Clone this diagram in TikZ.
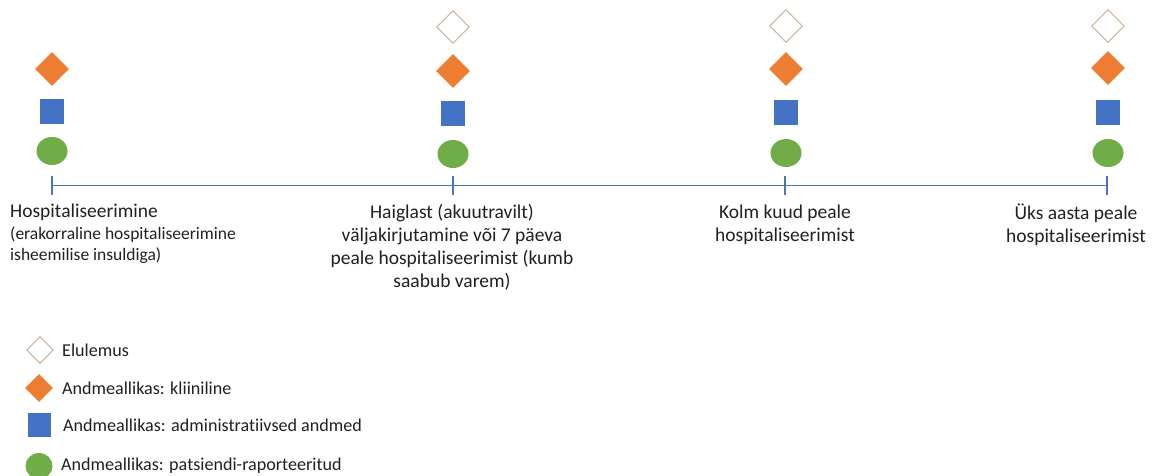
\documentclass[tikz,border=0pt]{standalone}
\usepackage{fontspec}
\setmainfont[Ligatures=NoCommon]{Carlito}
\usetikzlibrary{shapes.geometric}

\definecolor{clinOrange}{HTML}{ED7D31}
\definecolor{admBlue}{HTML}{4472C4}
\definecolor{patGreen}{HTML}{70AD47}
\definecolor{survEdge}{HTML}{C8AA90}
\definecolor{axisBlue}{HTML}{4A76B8}
\definecolor{txt}{HTML}{202020}

\tikzset{
  survival/.style={diamond, aspect=1, draw=survEdge, line width=0.9pt, fill=white,
                   inner sep=0pt, minimum width=#1, minimum height=#1},
  survival/.default=33,
  clinical/.style={diamond, aspect=1, fill=clinOrange, inner sep=0pt,
                   minimum width=#1, minimum height=#1},
  clinical/.default=34,
  admin/.style={rectangle, fill=admBlue, inner sep=0pt, minimum width=24, minimum height=25},
  patient/.style={ellipse, fill=patGreen, inner sep=0pt, minimum width=31, minimum height=28},
  tickmark/.style={draw=axisBlue, line width=2.2pt},
  axisline/.style={draw=axisBlue, line width=1pt},
  bigtext/.style={text=txt, inner sep=0pt, font=\fontsize{19.5}{23}\selectfont},
  legtext/.style={text=txt, inner sep=0pt, anchor=west, font=\fontsize{18.1}{21}\selectfont}
}

\begin{document}
\begin{tikzpicture}[x=1pt, y=-1pt]
  \useasboundingbox (0,0) rectangle (1155,475);

  % time points on the axis
  \coordinate (t1) at (52,185);
  \coordinate (t2) at (453,185);
  \coordinate (t3) at (785,185);
  \coordinate (t4) at (1107,185);

  \draw[axisline] (t1) -- (t4);
  \foreach \t in {t1,t2,t3,t4} {
    \draw[tickmark] ([yshift=-10pt]\t) -- ([yshift=9pt]\t);
  }

  % markers above each time point
  \node[clinical] (c1) at (52,69) {};
  \node[admin]    (a1) at (52,111) {};
  \node[patient]  (p1) at (52,151) {};

  \node[survival] (s2) at (453,27) {};
  \node[clinical] (c2) at (453,71) {};
  \node[admin]    (a2) at (453,113) {};
  \node[patient]  (p2) at (453,154) {};

  \node[survival] (s3) at (786,26) {};
  \node[clinical] (c3) at (786,69) {};
  \node[admin]    (a3) at (786,112) {};
  \node[patient]  (p3) at (786,153) {};

  \node[survival] (s4) at (1108,26) {};
  \node[clinical] (c4) at (1108,68) {};
  \node[admin]    (a4) at (1108,112) {};
  \node[patient]  (p4) at (1108,153) {};

  % labels under the axis
  \node[bigtext, anchor=north west, align=left] (l1) at (10,204)
    {Hospitaliseerimine\\[-1pt]
     {\fontsize{17.5}{21}\selectfont (erakorraline hospitaliseerimine}\\[-2pt]
     {\fontsize{17.5}{21}\selectfont isheemilise insuldiga)}};
  \node[bigtext, anchor=north, align=center] (l2) at (452,204)
    {Haiglast (akuutravilt)\\
     väljakirjutamine või 7 päeva\\
     peale hospitaliseerimist (kumb\\
     saabub varem)};
  \node[bigtext, anchor=north, align=center] (l3) at (785,205)
    {Kolm kuud peale\\hospitaliseerimist};
  \node[bigtext, anchor=north, align=center] (l4) at (1076,204)
    {Üks aasta peale\\hospitaliseerimist};

  % legend
  \node[survival=27] (ks) at (40,350) {};
  \node[clinical=28] (kc) at (39,388) {};
  \node[admin, minimum width=23, minimum height=24] (ka) at (39,425) {};
  \node[patient, minimum width=27, minimum height=26] (kp) at (39,466) {};

  \node[legtext] (ls) at (62,350) {Elulemus};
  \node[legtext] (lc) at (62,388) {Andmeallikas: kliiniline};
  \node[legtext] (la) at (63,425) {Andmeallikas: administratiivsed andmed};
  \node[legtext] (lp) at (61,466) {Andmeallikas: patsiendi-raporteeritud};
\end{tikzpicture}
\end{document}
